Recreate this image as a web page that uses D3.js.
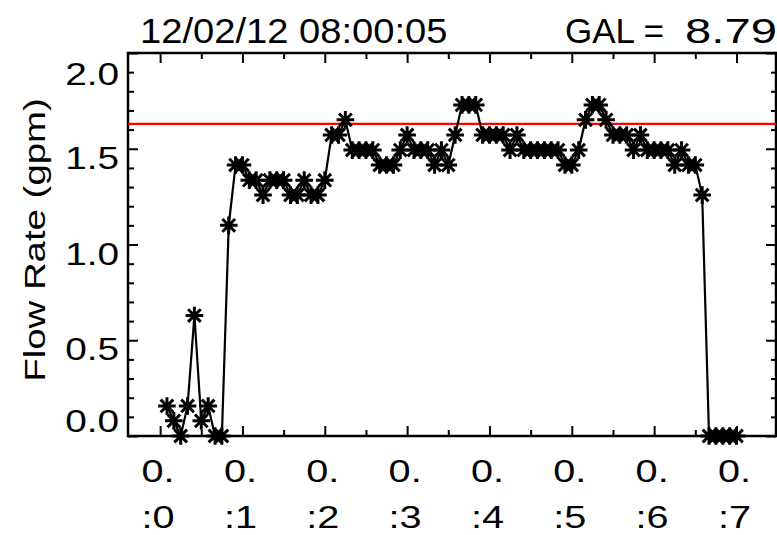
<!DOCTYPE html>
<html><head><meta charset="utf-8">
<script src="https://cdn.jsdelivr.net/npm/d3@7"></script>
<style>
body{margin:0;background:#fff}
svg{display:block}
text{font-family:"Liberation Sans",Arial,Helvetica,sans-serif;fill:#000}
</style>
</head><body>
<svg id="c" width="777" height="535"></svg>
<script>
// ---------- data ----------
const titleDate = "12/02/12 08:00:05";
const titleGalLabel = "GAL =";
const titleGalValue = "8.79";
const yLabel = "Flow Rate (gpm)";
// sample times in seconds after 08:00:00
const times = [5,10,15,20,25,30,35,40,45,50,55,60,65,70,75,80,85,90,95,100,
  105,110,115,120,125,130,135,140,145,150,155,160,165,170,175,180,185,190,195,200,
  205,210,215,220,225,230,235,240,245,250,255,260,265,270,275,280,285,290,295,300,
  305,310,315,320,325,330,335,340,345,350,355,360,365,370,375,380,385,390,395,400,
  405,410,415,420];
// flow rate (gpm)
const flow = [0.157,0.079,0.000,0.157,0.629,0.079,0.157,0.000,0.000,1.100,
  1.415,1.415,1.336,1.336,1.258,1.336,1.336,1.336,1.258,1.258,
  1.336,1.258,1.258,1.336,1.572,1.572,1.651,1.493,1.493,1.493,
  1.493,1.415,1.415,1.415,1.493,1.572,1.493,1.493,1.493,1.415,
  1.493,1.415,1.572,1.729,1.729,1.729,1.572,1.572,1.572,1.572,
  1.493,1.572,1.493,1.493,1.493,1.493,1.493,1.493,1.415,1.415,
  1.493,1.651,1.729,1.729,1.651,1.572,1.572,1.572,1.493,1.572,
  1.493,1.493,1.493,1.493,1.415,1.493,1.415,1.415,1.258,0.000,
  0.000,0.000,0.000,0.000];
const refLevel = 1.63;
const xMajorTicks = [0,1,2,3,4,5,6,7];
const xMinorTicks = [0.5,1.5,2.5,3.5,4.5,5.5,6.5];
const xTickLine1 = ["0.","0.","0.","0.","0.","0.","0.","0."];
const xTickLine2 = [":0",":1",":2",":3",":4",":5",":6",":7"];
const yMajorTicks = [0,0.5,1.0,1.5,2.0];
const yMinorTicks = [0.1,0.2,0.3,0.4,0.6,0.7,0.8,0.9,1.1,1.2,1.3,1.4,1.6,1.7,1.8,1.9];
const yTickLabels = ["0.0","0.5","1.0","1.5","2.0"];

// ---------- layout ----------
const L = 128, R = 776, T = 53, B = 436;
const FS = 31, SX = 1.25;   // IDL-like wide font: Arial glyphs stretched horizontally
const svg = d3.select("#c");
const x = d3.scaleLinear().domain([-0.39, 7.48]).range([L, R]);
const y = d3.scaleLinear().domain([0, 2.0]).range([B, T]);

function axisG(axis, tx, ty){
  const g = svg.append("g").attr("transform",`translate(${tx},${ty})`).call(axis);
  g.select(".domain").remove();
  g.selectAll(".tick line").attr("stroke","#000").attr("stroke-width",2);
  g.selectAll(".tick text").remove();
  return g;
}
axisG(d3.axisBottom(x).tickValues(xMajorTicks).tickSize(-10).tickFormat(""),0,B);
axisG(d3.axisBottom(x).tickValues(xMinorTicks).tickSize(-6).tickFormat(""),0,B);
axisG(d3.axisTop(x).tickValues(xMajorTicks).tickSize(-10).tickFormat(""),0,T);
axisG(d3.axisTop(x).tickValues(xMinorTicks).tickSize(-6).tickFormat(""),0,T);
axisG(d3.axisLeft(y).tickValues(yMajorTicks).tickSize(-10).tickFormat(""),L,0);
axisG(d3.axisLeft(y).tickValues(yMinorTicks).tickSize(-6).tickFormat(""),L,0);
axisG(d3.axisRight(y).tickValues(yMajorTicks).tickSize(-10).tickFormat(""),R,0);
axisG(d3.axisRight(y).tickValues(yMinorTicks).tickSize(-5).tickFormat(""),R,0);

svg.append("rect").attr("x",L).attr("y",T).attr("width",R-L).attr("height",B-T)
  .attr("fill","none").attr("stroke","#000").attr("stroke-width",2.5);

svg.append("line").attr("x1",L).attr("x2",R).attr("y1",y(refLevel)).attr("y2",y(refLevel))
  .attr("stroke","#ff0000").attr("stroke-width",2.2);

const pts = times.map((t,i)=>({m:t/60, v:flow[i]}));
svg.append("path").datum(pts)
  .attr("d", d3.line().x(d=>x(d.m)).y(d=>y(d.v)))
  .attr("fill","none").attr("stroke","#000").attr("stroke-width",2.2);

const r = 8.8, rd = r*0.72;
function star(){
  const p = d3.path();
  p.moveTo(-r,0); p.lineTo(r,0);
  p.moveTo(0,-r); p.lineTo(0,r);
  p.moveTo(-rd,-rd); p.lineTo(rd,rd);
  p.moveTo(-rd,rd); p.lineTo(rd,-rd);
  return p.toString();
}
svg.append("g").selectAll("path").data(pts).join("path")
  .attr("transform",d=>`translate(${x(d.m)},${y(d.v)})`)
  .attr("d",star()).attr("fill","none").attr("stroke","#000").attr("stroke-width",3);

// text helper with horizontal stretch
function wtext(g, px, py, str, anchor, fs, sx, rot){
  return g.append("text")
    .attr("transform",`translate(${px},${py})${rot?` rotate(${rot})`:""} scale(${sx},1)`)
    .attr("text-anchor",anchor).attr("font-size",fs).text(str);
}

// y tick labels
const gy = svg.append("g");
yMajorTicks.forEach((d,i)=>{
  let base = y(d) + 20;
  if (i === yMajorTicks.length-1) base = 85;
  if (i === 0) base = 432;
  wtext(gy, 119, base, yTickLabels[i], "end", FS, SX);
});

// x tick labels
const gx = svg.append("g");
xMajorTicks.forEach((d,i)=>{
  wtext(gx, x(d)-2, 482, xTickLine1[i], "middle", 32, 1.24);
  wtext(gx, x(d)-2, 528, xTickLine2[i], "middle", 32, 1.24);
});

// y axis title
wtext(svg, 45, 240, yLabel, "middle", 30, 1.28, -90);

// title
wtext(svg, 140, 43, titleDate, "start", 35, 1.09);
wtext(svg, 565, 43, titleGalLabel, "start", 35, 1.0);
wtext(svg, 777, 43, titleGalValue, "end", 35, 1.35);
</script>
</body></html>
